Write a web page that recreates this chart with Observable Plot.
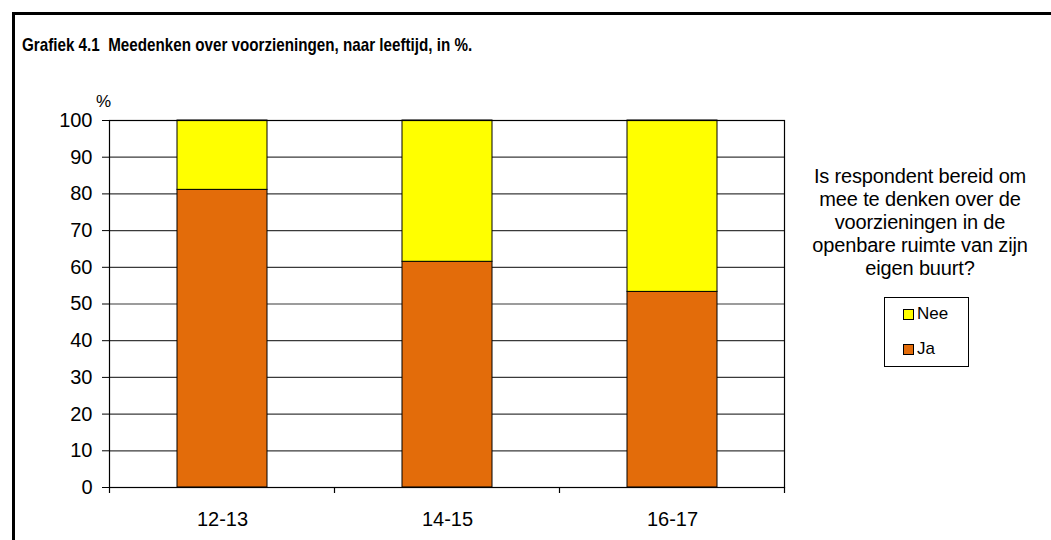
<!DOCTYPE html>
<html>
<head>
<meta charset="utf-8">
<script src="https://cdn.jsdelivr.net/npm/d3@7"></script>
<script src="https://cdn.jsdelivr.net/npm/@observablehq/plot@0.6"></script>
<style>
  html, body { margin: 0; padding: 0; background: #fff; }
  #wrap { position: relative; width: 1051px; height: 540px; overflow: hidden; font-family: "Liberation Sans", Arial, sans-serif; }
  #frame { position: absolute; left: 12px; top: 12px; width: 1100px; height: 600px; border-left: 3px solid #000; border-top: 3px solid #000; box-sizing: border-box; }
  #title { position: absolute; left: 22px; top: 34px; font-weight: bold; font-size: 19px; white-space: pre; color: #000; transform: scaleX(0.8); transform-origin: 0 0; }
  #pct { position: absolute; left: 96px; top: 92px; font-size: 17px; color: #000; }
  #ltitle { position: absolute; left: 790px; width: 260px; top: 165px; text-align: center; font-size: 20px; line-height: 23px; color: #000; letter-spacing: -0.15px; }
  #legend { position: absolute; left: 884px; top: 297px; width: 85px; height: 70px; border: 1px solid #000; box-sizing: border-box; font-size: 17px; }
  .item { position: absolute; left: 18px; display: flex; align-items: center; }
  .sw { width: 9px; height: 9px; border: 1px solid #000; margin-right: 3px; }
  svg { position: absolute; left: 0; top: 0; }
</style>
</head>
<body>
<div id="wrap">
  <div id="frame"></div>
</div>
<script>
const categories = ["12-13", "14-15", "16-17"];
const answers = ["Nee", "Ja"];
const jaValues = [81.1, 61.5, 53.3];
const neeValues = [18.9, 38.5, 46.7];
const colors = { Ja: "#E36C0A", Nee: "#FFFF00" };
const yTicks = [0, 10, 20, 30, 40, 50, 60, 70, 80, 90, 100];
const titleText = "Grafiek 4.1  Meedenken over voorzieningen, naar leeftijd, in %.";
const legendTitleLines = ["Is respondent bereid om", "mee te denken over de", "voorzieningen in de", "openbare ruimte van zijn", "eigen buurt?"];

const data = [];
categories.forEach((c, i) => {
  data.push({ age: c, answer: "Ja", value: jaValues[i] });
  data.push({ age: c, answer: "Nee", value: neeValues[i] });
});

const plot = Plot.plot({
  width: 1051,
  height: 540,
  marginTop: 120,
  marginBottom: 53,
  marginLeft: 109,
  marginRight: 267,
  style: { fontFamily: "'Liberation Sans', Arial, sans-serif", fontSize: "20px", color: "#000", background: "transparent", overflow: "visible" },
  x: { domain: categories, paddingInner: 0.6, paddingOuter: 0.3, label: null },
  y: { domain: [0, 100], label: null },
  color: { domain: ["Ja", "Nee"], range: [colors.Ja, colors.Nee] },
  marks: [
    Plot.ruleY(yTicks.slice(1), { stroke: "#3a3a3a", strokeWidth: 1.2 }),
    Plot.barY(data, Plot.stackY({ x: "age", y: "value", fill: "answer", order: ["Ja", "Nee"], stroke: "#000", strokeWidth: 1 })),
    Plot.frame({ stroke: "#000", strokeWidth: 1.2 }),
    Plot.axisY({ ticks: yTicks, tickSize: 7, tickPadding: 10, fontSize: 20, stroke: "#000" }),
    Plot.axisX({ tickSize: 0, tickPadding: 24, fontSize: 20 })
  ]
});

const wrap = document.getElementById("wrap");
wrap.appendChild(plot);

// boundary tick marks on the x axis, from the band scale
const xs = plot.scale("x");
const gap = xs.step - xs.bandwidth;
const bounds = categories.map(c => xs.apply(c) - gap / 2);
bounds.push(xs.apply(categories[categories.length - 1]) + xs.bandwidth + gap / 2);
const ys = plot.scale("y");
const y0 = ys.apply(0);
d3.select(plot).append("g")
  .selectAll("line").data(bounds).join("line")
  .attr("x1", d => d).attr("x2", d => d)
  .attr("y1", y0).attr("y2", y0 + 6)
  .attr("stroke", "#000").attr("stroke-width", 1.2);

const title = document.createElement("div");
title.id = "title"; title.textContent = titleText; wrap.appendChild(title);

const pct = document.createElement("div");
pct.id = "pct"; pct.textContent = "%"; wrap.appendChild(pct);

const lt = document.createElement("div");
lt.id = "ltitle"; lt.innerHTML = legendTitleLines.join("<br>"); wrap.appendChild(lt);

const lg = document.createElement("div");
lg.id = "legend";
answers.forEach((a, i) => {
  const it = document.createElement("div");
  it.className = "item";
  it.style.top = (i === 0 ? 6 : 41) + "px";
  const sw = document.createElement("div");
  sw.className = "sw";
  sw.style.background = plot.scale("color").apply(a);
  const tx = document.createElement("span");
  tx.textContent = a;
  it.appendChild(sw); it.appendChild(tx);
  lg.appendChild(it);
});
wrap.appendChild(lg);
</script>
</body>
</html>
